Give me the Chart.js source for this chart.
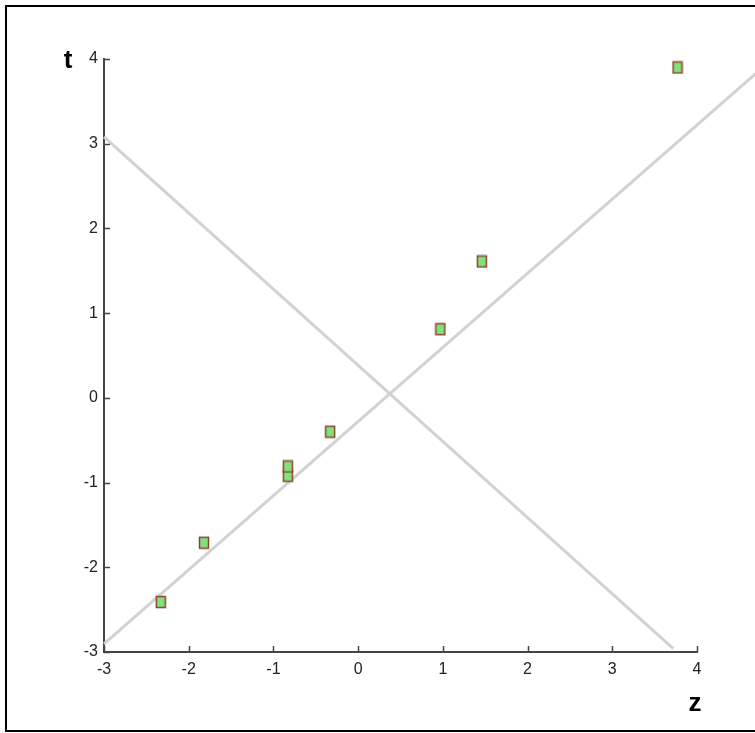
<!DOCTYPE html>
<html>
<head>
<meta charset="utf-8">
<script src="https://cdn.jsdelivr.net/npm/chart.js@4.4.1/dist/chart.umd.min.js"></script>
<style>
  body { margin: 0; background: #fff; }
  #wrap { position: relative; width: 755px; height: 733px; overflow: hidden; }
  #frame { position: absolute; left: 5px; top: 5px; width: 760px; height: 723px;
           border: 2px solid #000; border-right: none; pointer-events: none; }
</style>
</head>
<body>
<div id="wrap">
  <canvas id="plot" width="755" height="733"></canvas>
  <div id="frame"></div>
</div>
<script>
// observed pairs (later entries are drawn on top)
const zValues = [-2.33, -1.82, -0.83, -0.83, -0.33, 0.97, 1.46, 3.77];
const tValues = [-2.41, -1.71, -0.92, -0.81, -0.40, 0.81, 1.61, 3.90];

// the two straight lines (end points)
const riseZ = [-3, 4.8];
const riseT = [-2.905, 3.92];
const fallZ = [-3, 3.72];
const fallT = [3.08, -2.96];

const xTicks = [-3, -2, -1, 0, 1, 2, 3, 4];
const yTicks = [-3, -2, -1, 0, 1, 2, 3, 4];

const axisColor = '#444';
const lineGray = '#d2d2d2';

// little green box marker
const marker = document.createElement('canvas');
marker.width = 12;
marker.height = 14;
(function () {
    const c = marker.getContext('2d');
    c.fillStyle = '#80e27e';
    c.fillRect(1, 1, 10, 12);
    c.strokeStyle = '#93402c';
    c.lineWidth = 1.5;
    c.strokeRect(1.5, 1.5, 9, 11);
})();

const toXY = (xs, ys) => xs.map((x, i) => ({x: x, y: ys[i]}));

// inward tick marks + the axis letters
const axisMarks = {
    id: 'axisMarks',
    afterDatasetsDraw(chart) {
        const {ctx, chartArea, scales: {x, y}} = chart;
        ctx.save();
        ctx.strokeStyle = axisColor;
        ctx.lineWidth = 1.5;
        ctx.beginPath();
        yTicks.forEach(v => {
            const py = Math.round(y.getPixelForValue(v)) + 0.5;
            ctx.moveTo(chartArea.left, py);
            ctx.lineTo(chartArea.left + 6, py);
        });
        xTicks.forEach(v => {
            const px = Math.round(x.getPixelForValue(v)) + 0.5;
            ctx.moveTo(px, chartArea.bottom);
            ctx.lineTo(px, chartArea.bottom - 6);
        });
        ctx.stroke();

        ctx.fillStyle = '#000';
        ctx.font = 'bold 26px "Liberation Sans", Arial, sans-serif';
        ctx.textAlign = 'center';
        ctx.textBaseline = 'middle';
        ctx.fillText('t', chartArea.left - 36, y.getPixelForValue(4) + 2);
        ctx.fillText('z', x.getPixelForValue(4) - 2, chartArea.bottom + 52);
        ctx.restore();
    }
};

const tickFont = {family: '"Liberation Sans Narrow", "Liberation Sans", Arial, sans-serif', size: 16};

new Chart(document.getElementById('plot'), {
    type: 'scatter',
    data: {
        datasets: [
            {
                label: 'data',
                data: toXY(zValues, tValues),
                pointStyle: marker,
                pointRadius: 7,
                pointHoverRadius: 7
            },
            {
                label: 'rise',
                data: toXY(riseZ, riseT),
                showLine: true,
                borderColor: lineGray,
                borderWidth: 3,
                pointRadius: 0,
                clip: false
            },
            {
                label: 'fall',
                data: toXY(fallZ, fallT),
                showLine: true,
                borderColor: lineGray,
                borderWidth: 3,
                pointRadius: 0,
                clip: false
            }
        ]
    },
    options: {
        responsive: false,
        animation: false,
        layout: {padding: {top: 59, right: 58, left: 0, bottom: 0}},
        plugins: {legend: {display: false}, tooltip: {enabled: false}},
        scales: {
            x: {
                type: 'linear',
                min: -3,
                max: 4,
                afterFit: s => { s.height = 81; },
                afterBuildTicks: s => { s.ticks = xTicks.map(v => ({value: v})); },
                ticks: {padding: 8, color: '#222', font: tickFont, maxRotation: 0},
                grid: {display: false, drawTicks: false},
                border: {display: true, color: axisColor, width: 2}
            },
            y: {
                type: 'linear',
                min: -3,
                max: 4,
                afterFit: s => { s.width = 104; },
                afterBuildTicks: s => { s.ticks = yTicks.map(v => ({value: v})); },
                ticks: {padding: 6, color: '#222', font: tickFont},
                grid: {display: false, drawTicks: false},
                border: {display: true, color: axisColor, width: 2}
            }
        }
    },
    plugins: [axisMarks]
});
</script>
</body>
</html>
